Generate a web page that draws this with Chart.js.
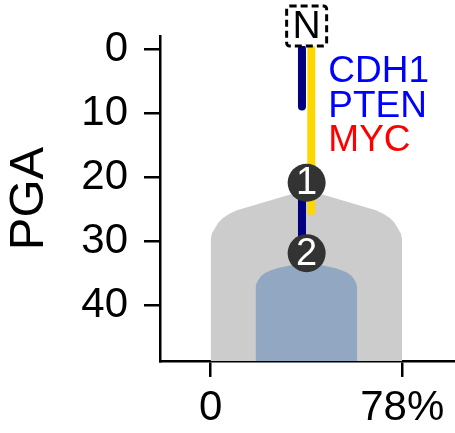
<!DOCTYPE html>
<html>
<head>
<meta charset="utf-8">
<script src="https://cdn.jsdelivr.net/npm/chart.js@4.4.1/dist/chart.umd.min.js"></script>
<style>
  html, body { margin: 0; padding: 0; background: #fff; }
  #wrap { width: 455px; height: 433px; }
</style>
</head>
<body>
<div id="wrap"><canvas id="cloneChart"></canvas></div>
<script>
// axis values
const yTicks = [0, 10, 20, 30, 40];
const xTicks = [0, 78];
const pgaMin = -2.03;
const pgaMax = 48.75;
const xMin = -20.6;
const xMax = 99.5;

// clone outlines (x = cellular fraction, y = PGA)
const greyX = [0, 0, 0.6, 1.75, 3.2, 5, 7.5, 10.7, 39, 67.3, 70.5, 73, 74.8, 76.25, 77.4, 78, 78];
const greyY = [48.75, 29.8, 28.8, 28.0, 27.1, 26.4, 25.8, 25.2, 22.0, 25.2, 25.8, 26.4, 27.1, 28.0, 28.8, 29.8, 48.75];
const blueX = [18.3, 18.3, 18.7, 19.4, 20.5, 22.1, 24.4, 27.4, 39, 50.6, 53.6, 55.9, 57.5, 58.6, 59.3, 59.7, 59.7];
const blueY = [48.75, 37.2, 36.6, 36.1, 35.5, 35.0, 34.6, 34.2, 33.3, 34.2, 34.6, 35.0, 35.5, 36.1, 36.6, 37.2, 48.75];

// branches
const navyX = 37.2;
const navyTop = [0, 9];
const navyMid = [20.9, 31.9];
const goldX = 41.0;
const goldSpan = [0, 25.3];

// nodes
const nodeLabels = ['1', '2'];
const nodeX = [39.1, 39.1];
const nodeY = [20.9, 31.9];
const normalLabel = 'N';
const normalX = 39.1;
const normalY = -3.6;

// driver genes
const geneLabels = ['CDH1', 'PTEN', 'MYC'];
const geneColors = ['#0000ff', '#0000ff', '#ff0000'];

const FONT = '"Liberation Sans", Arial, Helvetica, sans-serif';
Chart.defaults.font.family = FONT;
Chart.defaults.color = '#000';

const pts = (xs, ys) => xs.map((x, i) => ({ x: x, y: ys[i] }));

const cloneLabels = {
    id: 'cloneLabels',
    afterDatasetsDraw(chart) {
        const ctx = chart.ctx;
        const xs = chart.scales.x;
        const ys = chart.scales.y;
        ctx.save();

        // node numbers
        const meta = chart.getDatasetMeta(0);
        ctx.fillStyle = '#fff';
        ctx.font = '38px ' + FONT;
        ctx.textAlign = 'center';
        ctx.textBaseline = 'middle';
        meta.data.forEach((pt, i) => {
            ctx.fillText(nodeLabels[i], pt.x, pt.y + 1);
        });

        // normal node
        const nx = xs.getPixelForValue(normalX);
        const ny = ys.getPixelForValue(normalY);
        ctx.beginPath();
        ctx.roundRect(nx - 20, ny - 20, 40, 40, 3);
        ctx.fillStyle = '#fff';
        ctx.fill();
        ctx.setLineDash([7, 4]);
        ctx.lineWidth = 3;
        ctx.strokeStyle = '#000';
        ctx.stroke();
        ctx.setLineDash([]);
        ctx.fillStyle = '#000';
        ctx.font = '39px ' + FONT;
        ctx.fillText(normalLabel, nx, ny + 1);

        // gene labels
        const gx = xs.getPixelForValue(goldX) + 17;
        const gy = ys.getPixelForValue(goldSpan[0]) + 23;
        ctx.font = '37px ' + FONT;
        ctx.textAlign = 'left';
        geneLabels.forEach((g, i) => {
            ctx.fillStyle = geneColors[i];
            ctx.fillText(g, gx, gy + i * 34.5);
        });
        ctx.restore();
    }
};

new Chart(document.getElementById('cloneChart'), {
    type: 'line',
    data: {
        datasets: [{
            label: 'nodes',
            data: pts(nodeX, nodeY),
            showLine: false,
            pointRadius: 19,
            pointHoverRadius: 19,
            pointBackgroundColor: '#333333',
            pointBorderWidth: 0,
            order: 0,
        }, {
            label: 'gold',
            data: pts([goldX, goldX], goldSpan),
            borderColor: '#ffd700',
            borderWidth: 8,
            borderCapStyle: 'round',
            pointRadius: 0,
            order: 1,
        }, {
            label: 'navy top',
            data: pts([navyX, navyX], navyTop),
            borderColor: '#000080',
            borderWidth: 8,
            borderCapStyle: 'round',
            pointRadius: 0,
            order: 1,
        }, {
            label: 'navy mid',
            data: pts([navyX, navyX], navyMid),
            borderColor: '#000080',
            borderWidth: 8,
            borderCapStyle: 'round',
            pointRadius: 0,
            order: 1,
        }, {
            label: 'clone 2',
            data: pts(blueX, blueY),
            borderColor: 'transparent',
            borderWidth: 0,
            backgroundColor: '#92a8c2',
            fill: { value: pgaMax },
            pointRadius: 0,
            order: 2,
        }, {
            label: 'clone 1',
            data: pts(greyX, greyY),
            borderColor: 'transparent',
            borderWidth: 0,
            backgroundColor: '#cccccc',
            fill: { value: pgaMax },
            pointRadius: 0,
            order: 3,
        }]
    },
    options: {
        responsive: true,
        maintainAspectRatio: false,
        animation: false,
        layout: {
            autoPadding: false,
            padding: { top: 36, left: 0, right: 0, bottom: 0 }
        },
        plugins: {
            legend: { display: false },
            tooltip: { enabled: false },
        },
        scales: {
            x: {
                type: 'linear',
                min: xMin,
                max: xMax,
                afterBuildTicks: (scale) => {
                    scale.ticks = xTicks.map(v => ({ value: v }));
                },
                afterFit: (scale) => {
                    scale.height = 72;
                    scale.paddingLeft = 0;
                    scale.paddingRight = 0;
                },
                ticks: {
                    callback: (value) => value === 0 ? '0' : value + '%',
                    font: { size: 42 },
                    color: '#000',
                    padding: 6,
                    maxRotation: 0,
                    autoSkip: false,
                },
                grid: {
                    drawOnChartArea: false,
                    tickLength: 16,
                    color: '#000',
                    lineWidth: 2.5,
                },
                border: { color: '#000', width: 2.5 },
            },
            y: {
                type: 'linear',
                reverse: true,
                min: pgaMin,
                max: pgaMax,
                afterBuildTicks: (scale) => {
                    scale.ticks = yTicks.map(v => ({ value: v }));
                },
                afterFit: (scale) => {
                    scale.width = 160;
                    scale.paddingTop = 0;
                    scale.paddingBottom = 0;
                },
                ticks: {
                    font: { size: 42 },
                    color: '#000',
                    padding: 16,
                    autoSkip: false,
                },
                grid: {
                    drawOnChartArea: false,
                    tickLength: 16,
                    color: '#000',
                    lineWidth: 2.5,
                },
                border: { color: '#000', width: 2.5 },
                title: {
                    display: true,
                    text: 'PGA',
                    font: { size: 49 },
                    color: '#000',
                    padding: 0,
                },
            }
        }
    },
    plugins: [cloneLabels]
});
</script>
</body>
</html>
